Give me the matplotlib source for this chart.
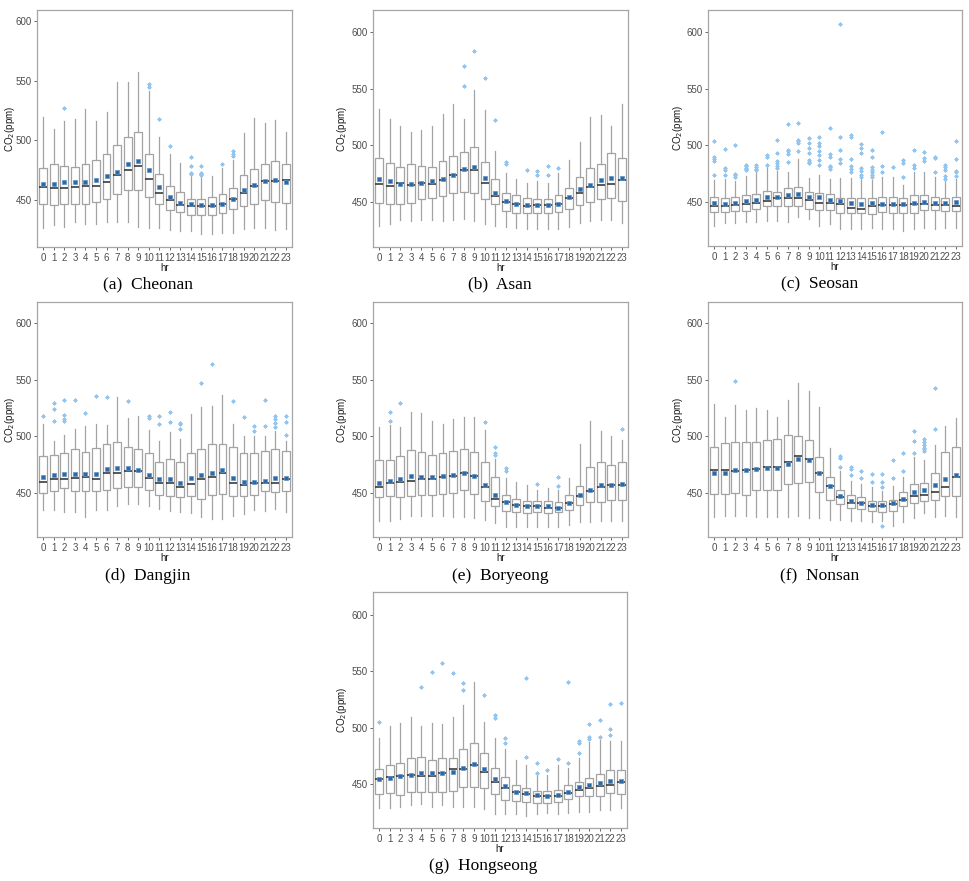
import matplotlib.pyplot as plt

# ─────────────────────────────────────────────────────────────
# hourly CO2 box stats per site
# ─────────────────────────────────────────────────────────────
HOURS = list(range(24))

cheonan_lo = [427, 429, 428, 432, 430, 430, 432, 432, 432, 428, 427, 427, 425, 424, 424, 422, 422, 423, 423, 426, 427, 427, 425, 426]
cheonan_q1 = [447, 446, 447, 447, 447, 449, 451, 455, 459, 459, 453, 447, 442, 440, 438, 438, 438, 439, 443, 445, 447, 450, 449, 448]
cheonan_med = [461, 460, 460, 461, 462, 462, 465, 471, 475, 479, 468, 456, 450, 446, 445, 445, 445, 447, 451, 456, 462, 466, 466, 467]
cheonan_q3 = [477, 480, 479, 478, 480, 484, 489, 496, 503, 507, 489, 472, 462, 457, 451, 451, 453, 455, 460, 471, 476, 480, 483, 480]
cheonan_hi = [520, 510, 516, 518, 526, 516, 524, 549, 549, 557, 541, 503, 489, 481, 471, 470, 470, 477, 484, 506, 519, 515, 517, 507]
cheonan_mean = [464, 464, 465, 465, 465, 467, 470, 474, 480, 483, 475, 461, 453, 448, 447, 446, 446, 447, 451, 459, 463, 466, 467, 465]
cheonan_out = [[], [], [527], [], [], [], [], [], [], [], [545, 547], [518], [495], [],
               [472, 473, 479, 486], [471, 472, 473, 479], [], [480], [487, 489, 491], [], [], [], [], []]

asan_lo = [429, 430, 434, 433, 434, 434, 433, 434, 435, 433, 430, 429, 428, 427, 426, 426, 426, 426, 428, 431, 433, 434, 434, 431]
asan_q1 = [449, 448, 448, 449, 452, 453, 455, 458, 459, 458, 452, 448, 442, 440, 440, 440, 440, 441, 444, 447, 450, 452, 453, 451]
asan_med = [466, 464, 467, 465, 467, 466, 469, 474, 478, 478, 467, 455, 450, 448, 446, 447, 447, 448, 453, 458, 463, 465, 466, 469]
asan_q3 = [489, 484, 481, 483, 482, 481, 486, 490, 494, 498, 485, 470, 458, 456, 453, 452, 452, 456, 462, 472, 480, 483, 493, 489]
asan_hi = [532, 523, 517, 512, 513, 517, 528, 536, 523, 549, 531, 495, 475, 470, 467, 468, 467, 475, 487, 503, 525, 527, 517, 536]
asan_mean = [470, 468, 466, 466, 467, 468, 470, 474, 479, 481, 471, 458, 451, 448, 447, 447, 447, 448, 454, 461, 465, 469, 471, 471]
asan_out = [[], [], [], [], [], [], [], [], [552, 570], [583], [559], [522], [483, 485], [],
            [478], [474, 477], [474, 482], [480], [], [], [], [], [], []]

seosan_lo = [429, 431, 431, 432, 432, 433, 433, 432, 437, 435, 429, 430, 426, 426, 426, 427, 426, 426, 424, 426, 427, 426, 427, 427]
seosan_q1 = [441, 441, 442, 442, 444, 446, 446, 446, 446, 444, 443, 443, 440, 440, 440, 439, 441, 440, 440, 440, 443, 443, 442, 442]
seosan_med = [446, 446, 447, 448, 449, 451, 453, 453, 453, 452, 449, 449, 448, 445, 444, 446, 447, 447, 447, 448, 448, 447, 447, 446]
seosan_q3 = [454, 453, 454, 456, 457, 460, 459, 462, 463, 459, 458, 457, 453, 453, 453, 453, 454, 454, 453, 456, 456, 454, 453, 454]
seosan_hi = [469, 470, 468, 473, 477, 481, 477, 476, 488, 471, 474, 470, 471, 471, 470, 469, 472, 472, 465, 476, 476, 472, 468, 470]
seosan_mean = [449, 448, 449, 451, 452, 454, 454, 456, 457, 454, 454, 452, 451, 449, 448, 449, 448, 448, 448, 449, 450, 449, 449, 450]
seosan_out = [[474, 486, 488, 490, 504], [474, 478, 480, 497], [472, 474, 475, 500], [478, 479, 480, 482, 483],
              [478, 479, 481, 483], [483, 490, 491], [480, 482, 484, 486, 493, 505], [485, 492, 495, 496, 519],
              [495, 502, 504, 505, 520], [484, 485, 487, 493, 498, 502, 506], [483, 487, 491, 495, 499, 502, 507],
              [479, 481, 482, 490, 492, 515], [484, 488, 496, 507, 607], [476, 479, 482, 488, 507, 509],
              [472, 474, 477, 480, 493, 498, 501], [472, 474, 476, 478, 481, 490, 496], [476, 482, 512], [481],
              [472, 484, 487], [480, 483, 496], [486, 489, 494], [476, 489, 490], [470, 473, 478, 481, 483],
              [473, 476, 477, 488, 504]]

dangjin_lo = [435, 435, 433, 433, 429, 435, 435, 438, 440, 440, 438, 436, 434, 433, 432, 429, 427, 427, 430, 431, 435, 434, 436, 433]
dangjin_q1 = [450, 452, 454, 452, 452, 452, 453, 454, 455, 455, 453, 448, 447, 446, 447, 445, 448, 449, 447, 447, 448, 452, 451, 452]
dangjin_med = [460, 462, 462, 463, 464, 462, 468, 468, 469, 469, 463, 459, 459, 455, 458, 462, 464, 468, 459, 457, 459, 459, 459, 462]
dangjin_q3 = [483, 484, 485, 489, 486, 490, 493, 495, 491, 489, 485, 477, 480, 477, 485, 489, 493, 493, 491, 485, 485, 487, 489, 487]
dangjin_hi = [511, 496, 501, 507, 509, 511, 510, 535, 516, 518, 506, 496, 504, 498, 520, 526, 527, 537, 511, 500, 500, 500, 505, 496]
dangjin_mean = [464, 466, 467, 467, 467, 467, 471, 472, 472, 470, 466, 462, 462, 459, 463, 466, 468, 470, 463, 460, 460, 461, 463, 463]
dangjin_out = [[518], [514, 524, 530], [514, 515, 519, 532], [532], [521], [536], [535], [], [531], [],
               [516, 518], [511, 518], [513, 522], [507, 511, 512], [], [547], [564], [], [531], [517],
               [505, 509], [509, 532], [508, 512, 515, 518], [501, 513, 518]]

boryeong_lo = [425, 425, 427, 430, 430, 430, 430, 429, 429, 428, 426, 423, 420, 420, 420, 420, 420, 420, 422, 424, 424, 425, 425, 425]
boryeong_q1 = [446, 447, 446, 447, 448, 448, 449, 450, 453, 449, 443, 438, 434, 433, 432, 433, 432, 433, 435, 439, 442, 442, 444, 444]
boryeong_med = [455, 459, 460, 461, 462, 462, 464, 465, 468, 465, 455, 445, 442, 439, 438, 438, 437, 437, 441, 447, 452, 455, 457, 457]
boryeong_q3 = [479, 479, 483, 488, 486, 484, 485, 487, 489, 486, 477, 464, 448, 445, 443, 443, 443, 442, 448, 456, 473, 477, 475, 477]
boryeong_hi = [508, 510, 508, 522, 521, 514, 511, 515, 517, 517, 506, 480, 463, 460, 457, 453, 454, 453, 463, 493, 514, 505, 500, 497]
boryeong_mean = [459, 461, 462, 465, 464, 464, 465, 466, 468, 465, 457, 448, 442, 439, 438, 438, 438, 437, 441, 448, 453, 457, 457, 458]
boryeong_out = [[], [514, 522], [530], [], [], [], [], [], [], [], [513], [484, 485, 491], [469, 472], [],
                [], [458], [], [456, 464], [], [], [], [], [], [507]]

nonsan_lo = [429, 430, 430, 430, 429, 429, 429, 429, 430, 428, 428, 426, 426, 425, 425, 424, 425, 421, 424, 428, 432, 429, 430, 429]
nonsan_q1 = [449, 449, 450, 448, 453, 453, 453, 458, 459, 460, 451, 444, 440, 437, 436, 434, 433, 434, 438, 441, 443, 444, 447, 447]
nonsan_med = [470, 470, 469, 470, 471, 473, 473, 477, 483, 480, 468, 456, 446, 441, 441, 438, 438, 440, 444, 447, 448, 451, 455, 464]
nonsan_q3 = [491, 494, 495, 495, 495, 497, 498, 501, 500, 497, 482, 464, 453, 448, 446, 443, 443, 444, 451, 458, 459, 468, 486, 491]
nonsan_hi = [529, 517, 528, 523, 525, 523, 517, 532, 547, 540, 526, 490, 469, 461, 458, 455, 452, 456, 464, 482, 479, 492, 509, 516]
nonsan_mean = [468, 468, 470, 470, 471, 472, 472, 476, 480, 479, 468, 456, 447, 443, 441, 439, 439, 441, 445, 451, 453, 457, 462, 466]
nonsan_out = [[], [], [549], [], [], [], [], [], [], [], [], [], [473, 481, 483], [466, 471, 473],
              [463, 469], [460, 467], [421, 455, 460, 467], [463, 479], [469, 485], [485, 496, 505],
              [487, 489, 490, 492, 495, 498], [507, 543], [], []]

hongseong_lo = [429, 429, 430, 431, 432, 430, 431, 430, 430, 430, 428, 423, 423, 423, 422, 423, 424, 423, 424, 425, 425, 427, 427, 429]
hongseong_q1 = [441, 442, 440, 443, 443, 443, 443, 444, 447, 447, 446, 441, 436, 435, 434, 433, 433, 434, 437, 439, 439, 439, 442, 441]
hongseong_med = [454, 456, 457, 458, 457, 457, 460, 463, 463, 467, 461, 452, 446, 443, 441, 439, 439, 439, 442, 445, 446, 448, 449, 452]
hongseong_q3 = [463, 467, 469, 473, 474, 471, 473, 473, 481, 486, 477, 464, 456, 449, 446, 444, 444, 445, 449, 452, 455, 459, 462, 462]
hongseong_hi = [491, 501, 504, 509, 501, 504, 503, 509, 520, 540, 505, 491, 481, 471, 467, 458, 458, 467, 464, 473, 487, 489, 488, 488]
hongseong_mean = [454, 455, 457, 458, 460, 460, 460, 461, 464, 468, 463, 454, 448, 443, 442, 440, 439, 440, 443, 447, 449, 451, 453, 453]
hongseong_out = [[505], [], [], [], [536], [549], [557], [548], [533, 539], [], [529], [508, 511], [486, 491], [],
                 [474, 544], [460, 469], [462], [472], [469, 540], [477, 486, 488], [490, 492, 503], [492, 507],
                 [493, 499, 521], [522]]

captions = ["(a)  Cheonan", "(b)  Asan", "(c)  Seosan", "(d)  Dangjin",
            "(e)  Boryeong", "(f)  Nonsan", "(g)  Hongseong"]

sites = [
    (cheonan_lo, cheonan_q1, cheonan_med, cheonan_q3, cheonan_hi, cheonan_mean, cheonan_out),
    (asan_lo, asan_q1, asan_med, asan_q3, asan_hi, asan_mean, asan_out),
    (seosan_lo, seosan_q1, seosan_med, seosan_q3, seosan_hi, seosan_mean, seosan_out),
    (dangjin_lo, dangjin_q1, dangjin_med, dangjin_q3, dangjin_hi, dangjin_mean, dangjin_out),
    (boryeong_lo, boryeong_q1, boryeong_med, boryeong_q3, boryeong_hi, boryeong_mean, boryeong_out),
    (nonsan_lo, nonsan_q1, nonsan_med, nonsan_q3, nonsan_hi, nonsan_mean, nonsan_out),
    (hongseong_lo, hongseong_q1, hongseong_med, hongseong_q3, hongseong_hi, hongseong_mean, hongseong_out),
]

# ─────────────────────────────────────────────────────────────
# layout (pixel boxes of each panel in a 970x881 figure)
# ─────────────────────────────────────────────────────────────
W, H = 970, 881
panel_px = [(37, 292, 10, 247), (373, 628, 10, 247), (708, 962, 10, 246),
            (37, 292, 302, 537), (373, 628, 302, 537), (708, 962, 302, 537),
            (373, 627, 592, 828)]
caption_px = [(148, 284), (500, 284), (820, 284), (148, 576), (500, 576), (820, 576), (483, 866)]
ylabel_gap = [20, 24, 23, 20, 24, 23, 24]   # px from axes edge to right side of rotated label
ylims = [(411, 609), (410, 619.5), (411, 619.5), (411, 619), (411, 619), (411, 619), (411, 620)]

plt.rcParams['font.family'] = ['Liberation Sans', 'DejaVu Sans']

fig = plt.figure(figsize=(W / 100, H / 100), dpi=100)

for i, (lo, q1, med, q3, hi, mean, out) in enumerate(sites):
    l, r, t, b = panel_px[i]
    ax = fig.add_axes([l / W, 1 - b / H, (r - l) / W, (b - t) / H])

    stats = []
    for h in HOURS:
        stats.append(dict(whislo=lo[h], q1=q1[h], med=med[h], q3=q3[h],
                          whishi=hi[h], mean=mean[h], fliers=out[h]))

    ax.bxp(stats, positions=HOURS, widths=0.75, showmeans=True, showcaps=False,
           showfliers=True, patch_artist=True,
           boxprops=dict(facecolor='white', edgecolor='#a3a3a3', linewidth=0.9),
           whiskerprops=dict(color='#a3a3a3', linewidth=0.9),
           medianprops=dict(color='#2b2b2b', linewidth=1.1),
           meanprops=dict(marker='s', markersize=3.4, markerfacecolor='#2c68a3',
                          markeredgecolor='#5d90c4', markeredgewidth=0.5),
           flierprops=dict(marker=(8, 2, 0), markersize=2.8, markeredgecolor='#94c5ef',
                           markerfacecolor='#94c5ef', markeredgewidth=0.6, linestyle='none'))

    ax.set_xlim(-0.6, 23.6)
    ax.set_ylim(*ylims[i])
    ax.set_yticks([450, 500, 550, 600])
    ax.set_xticks(HOURS)
    ax.set_xticklabels([str(h) for h in HOURS])
    ax.tick_params(labelsize=7, colors='#4d4d4d', length=2.5, width=0.6, pad=1.5)
    for s in ax.spines.values():
        s.set_color('#a6a6a6')
        s.set_linewidth(0.9)

    ax.set_xlabel("hr", fontsize=7, labelpad=0, color='#1a1a1a')
    ax.set_ylabel("CO$_2$(ppm)", fontsize=7, color='#1a1a1a')
    ax.yaxis.set_label_coords(-ylabel_gap[i] / (r - l), 0.5)

    cx, cy = caption_px[i]
    fig.text(cx / W, 1 - cy / H, captions[i], ha='center', va='center',
             fontsize=12.5, family='Liberation Serif')

fig.savefig("out.png", dpi=100)
